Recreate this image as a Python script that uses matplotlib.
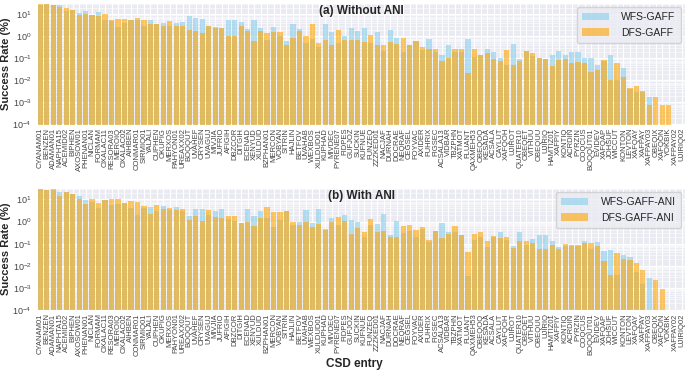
import matplotlib
matplotlib.use("Agg")
import matplotlib.pyplot as plt
import seaborn as sns

# CSD entries, in the order shown on the x axis
entries = [
    "CYANAM01", "BENZEN", "ADAMAN01", "NAPHTA15", "ACEMID02", "BIPHEN", "AXOSOW01", "PHENAN01",
    "NICLAN", "FORMAM", "OXALAC11", "RESORA03", "MEROIQ", "OXALAC02", "AIHBEN", "CONMAR01",
    "SIRMIQ01", "YALALI", "CUPHEN", "OKUPIG", "MERXOS", "PAHYON01", "UREAXX02", "BOQQUT",
    "UVAHEF", "CRYSEN", "UVAGUJ", "MIVJIA", "JUFRIO", "AFIGIH", "DBZCOR", "DITGIH",
    "ECENAD", "XENYUD", "XULDUD", "BZPHAN01", "MERCON", "VOBYAN", "SITRIN", "HAJLIN",
    "BETFOV", "UVAHAB", "WEXBOS", "XULDUD01", "KUPHAD", "MIVDEC", "PYRENE07", "FIDPES",
    "GUFJOZ", "SUCKIN", "KUFNUE", "FUNZEQ", "ZZZKED01", "NACJAF", "DURNAH", "DOCRAE",
    "NEQRAF", "CEGSEL", "FOYVAC", "AXIDER", "FUHRIX", "FIGSEC", "ACSALA13", "VIDBAR",
    "TBZPHN", "XATMOT", "FLUANT", "QAXMEH53", "OBEQOQ", "KESADA", "ACSALA", "CAYLUT",
    "XAFQOH", "UJIROT", "QUATER10", "OBEQET", "VITHUU", "OBEQUU", "UJIRIQ", "HAMTIZ01",
    "XAFPIY", "KONTIQ", "ACRDIN", "PYRZIN", "COQCUS", "BOQQUT01", "EVIDEV", "XAFQAP",
    "JOHSUF", "WICCUT", "KONTON", "LEVTON", "XAFQAY", "XAFPAY", "XAFPAY03", "OBEQIX",
    "XAFQON", "YOKBIK", "XAFPAY02", "UJIRIQ02",
]

# success rates (%) without ANI
wfs_gaff = [
    28, 30, 26, 28, 14, 16, 12, 15, 9, 13,
    5.3, 5.2, 2.6, 4.2, 5.3, 5.5, 2.9, 5.3, 3.8, 3.9,
    2.9, 4.2, 4.5, 8.4, 6.6, 5.9, 3.1, 2.6, 2.3, 5.3,
    5.5, 4.5, 2.2, 5.5, 2.5, 0.68, 2.8, 1.1, 0.61, 3.5,
    2.2, 0.5, 0.75, 0.34, 3.5, 1.6, 0.5, 1.0, 2.4, 1.7,
    2.5, 0.5, 1.6, 0.21, 1.9, 0.84, 0.19, 0.4, 0.59, 0.24,
    0.73, 0.2, 0.14, 0.43, 0.2, 0.2, 0.73, 0.12, 0.15, 0.28,
    0.19, 0.10, 0.05, 0.46, 0.096, 0.21, 0.13, 0.11, 0.09, 0.15,
    0.21, 0.15, 0.19, 0.19, 0.10, 0.11, 0.048, 0.076, 0.15, 0.011,
    0.037, 0.004, 0.003, 0.003, 0.0018, 0, 0, 0, 0, 0,
]
dfs_gaff = [
    30, 30, 26, 22, 18.7, 16, 9.3, 11, 9, 8.4,
    10.3, 5.3, 5.9, 6.3, 5.3, 6.6, 5.5, 3.6, 3.5, 2.9,
    5.0, 2.9, 2.9, 1.9, 1.8, 1.5, 2.9, 2.3, 2.3, 1.1,
    1.1, 2.9, 1.7, 0.61, 1.7, 1.5, 1.6, 1.6, 0.42, 0.81,
    1.8, 1.1, 3.5, 0.5, 0.68, 0.4, 1.9, 0.68, 0.68, 0.68,
    0.55, 1.2, 0.4, 0.43, 0.56, 0.46, 0.84, 0.4, 0.59, 0.33,
    0.26, 0.26, 0.076, 0.11, 0.26, 0.28, 0.022, 0.27, 0.15, 0.17,
    0.09, 0.076, 0.24, 0.05, 0.076, 0.21, 0.18, 0.11, 0.096, 0.045,
    0.085, 0.09, 0.064, 0.07, 0.064, 0.024, 0.029, 0.085, 0.011, 0.064,
    0.015, 0.0046, 0.0058, 0.0035, 0.0008, 0.0018, 0.0008, 0.0008, 0, 0,
]

# success rates (%) with ANI
wfs_gaff_ani = [
    31, 28, 27, 22, 22, 18, 14.2, 9, 7.8, 4.2,
    9.3, 5.5, 6, 6.6, 4.2, 1.9, 4.2, 4.6, 2.9, 5,
    3.5, 4.6, 2.9, 1.7, 3.7, 3.7, 1.9, 3.1, 3.7, 1.3,
    1.1, 0.87, 3.8, 1.7, 2.9, 1.4, 0.56, 1.2, 2.9, 0.73,
    1.0, 3.3, 0.87, 3.7, 0.48, 1.4, 0.68, 2.0, 1.15, 0.98,
    0.21, 0.73, 0.78, 2.1, 0.26, 1.1, 0.3, 0.38, 0.21, 0.48,
    0.12, 0.38, 0.87, 0.33, 0.35, 0.24, 0.0034, 0.14, 0.21, 0.068,
    0.2, 0.34, 0.15, 0.075, 0.33, 0.09, 0.17, 0.24, 0.24, 0.13,
    0.07, 0.08, 0.08, 0.08, 0.13, 0.055, 0.12, 0.048, 0.05, 0.004,
    0.032, 0.025, 0.005, 0.0015, 0.0028, 0, 0, 0, 0, 0,
]
dfs_gaff_ani = [
    31, 28, 30, 13.7, 22, 17, 10, 6.4, 10, 6.6,
    9.3, 10.7, 10.7, 6.6, 8.4, 7.5, 5.3, 2.1, 5.9, 3.9,
    4.2, 3.5, 3.7, 1.2, 1.7, 1.1, 3.5, 1.6, 1.4, 1.7,
    1.7, 0.87, 1.0, 0.61, 1.4, 4.4, 2.6, 2.6, 2.9, 1.0,
    0.68, 0.95, 0.56, 0.81, 0.4, 0.93, 1.6, 1.1, 0.28, 0.53,
    0.33, 1.3, 0.33, 0.38, 0.21, 0.21, 0.61, 0.68, 0.43, 0.56,
    0.14, 0.38, 0.19, 0.28, 0.61, 0.26, 0.04, 0.28, 0.33, 0.13,
    0.22, 0.19, 0.21, 0.063, 0.13, 0.13, 0.11, 0.06, 0.055, 0.09,
    0.055, 0.096, 0.085, 0.085, 0.11, 0.11, 0.08, 0.016, 0.004, 0.038,
    0.021, 0.018, 0.013, 0.0066, 0, 0.0023, 0.0009, 0, 0, 0,
]

sns.set_style("darkgrid")
plt.rcParams['font.family'] = ['Liberation Sans', 'DejaVu Sans']
plt.rcParams['mathtext.default'] = 'regular'

W, H = 685, 372
fig = plt.figure(figsize=(W / 100, H / 100), dpi=100)


def px_axes(left, top, right, bottom):
    return fig.add_axes([left / W, 1 - bottom / H, (right - left) / W, (bottom - top) / H])


def panel(ax, wfs, dfs, labels, title):
    x = list(range(len(entries)))
    ax.bar(x, wfs, width=0.8, color='skyblue', alpha=0.6, linewidth=0, label=labels[0])
    ax.bar(x, dfs, width=0.8, color='orange', alpha=0.6, linewidth=0, label=labels[1])
    ax.set_yscale('log')
    ax.set_ylim(1e-4, 33)
    ax.set_xlim(-0.5, len(entries) - 0.5)
    ax.set_xticks(x)
    ax.set_xticklabels(entries, rotation=90, fontsize=5.5, color='#444444')
    # ticks are hidden by the style, so shrink them to keep labels close
    ax.tick_params(axis='x', length=0, pad=2.5)
    ax.tick_params(axis='y', which='both', length=0, labelsize=6.5, pad=3.8, labelcolor='#444444')
    ax.grid(which='minor', axis='y', color='white', linewidth=0.4)
    ax.set_ylabel('Success Rate (%)', fontsize=8, fontweight='bold')
    ax.yaxis.set_label_coords(-0.0395, 0.5)
    ax.text(0.5, 0.985, title, transform=ax.transAxes, ha='center', va='top',
            fontsize=8.5, fontweight='bold')
    ax.legend(loc='upper right', fontsize=7.5, handlelength=2.6, borderpad=0.5,
              labelspacing=0.5, handletextpad=1.2, borderaxespad=0.4)


ax1 = px_axes(37, 3, 685, 124.5)
panel(ax1, wfs_gaff, dfs_gaff, ['WFS-GAFF', 'DFS-GAFF'], '(a) Without ANI')

ax2 = px_axes(37, 188, 685, 310)
panel(ax2, wfs_gaff_ani, dfs_gaff_ani, ['WFS-GAFF-ANI', 'DFS-GAFF-ANI'], '(b) With ANI')
ax2.set_xlabel('CSD entry', fontsize=8.5, fontweight='bold')
ax2.xaxis.set_label_coords(0.49, -0.39)

fig.savefig('out.png', dpi=100)
